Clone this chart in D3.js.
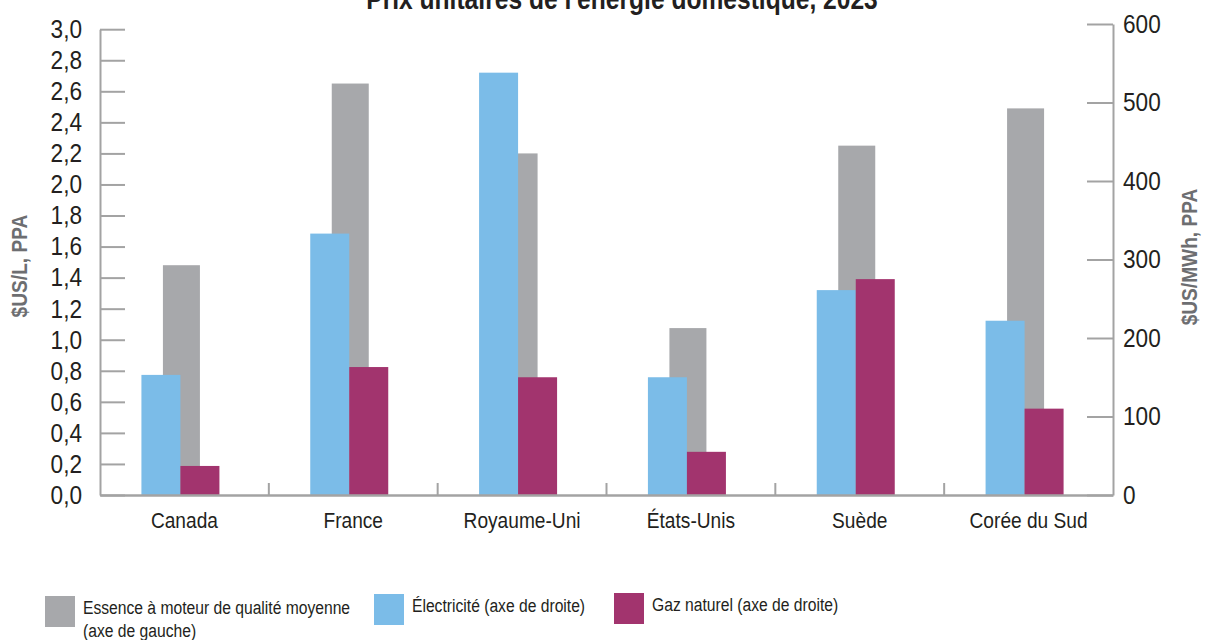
<!DOCTYPE html>
<html>
<head>
<meta charset="utf-8">
<script src="https://cdn.jsdelivr.net/npm/d3@7"></script>
<style>
  html, body { margin: 0; padding: 0; background: #fff; }
  svg { display: block; }
</style>
</head>
<body>
<svg id="chart" width="1206" height="640"></svg>
<script>
// ---- Data ----
const title = "Prix unitaires de l'énergie domestique, 2023";
const categories = ["Canada", "France", "Royaume-Uni", "États-Unis", "Suède", "Corée du Sud"];
const essence = [1.48, 2.65, 2.20, 1.075, 2.25, 2.49];        // $US/L, PPA (left axis)
const electricite = [153, 333, 538, 150, 261, 222];          // $US/MWh, PPA (right axis)
const gazNaturel = [37, 163, 150, 55, 275, 110];              // $US/MWh, PPA (right axis)
const leftTicks = [0, 0.2, 0.4, 0.6, 0.8, 1.0, 1.2, 1.4, 1.6, 1.8, 2.0, 2.2, 2.4, 2.6, 2.8, 3.0];
const rightTicks = [0, 100, 200, 300, 400, 500, 600];
const leftTitle = "$US/L, PPA";
const rightTitle = "$US/MWh, PPA";
const legendLabels = [
  ["Essence à moteur de qualité moyenne", "(axe de gauche)"],
  ["Électricité (axe de droite)"],
  ["Gaz naturel (axe de droite)"]
];

// ---- Styles ----
const FONT = "'Liberation Sans','Arial',sans-serif";
const SX = 0.87;          // horizontal condensing of regular text
const SX_TITLE = 0.82;    // horizontal condensing of the bold title
const COL_GRAY = "#a7a8ab", COL_BLUE = "#7bbce8", COL_MAG = "#a2346e";
const AXIS_COL = "#a3a3a3", TEXT_COL = "#231f20", TITLE_GRAY = "#6d6e71";

const svg = d3.select("#chart");

const x = d3.scaleBand().domain(categories).range([100, 1113]).paddingInner(0).paddingOuter(0);
const yL = d3.scaleLinear().domain([0, 3]).range([495, 29.2]);
const yR = d3.scaleLinear().domain([0, 600]).range([495, 24]);

const grayW = 37, pairW = 39;
const center = c => x(c) + x.bandwidth() / 2 - 4;

// ---- Bars ----
const g = svg.append("g");
g.selectAll("rect.ess").data(categories).join("rect")
  .attr("class", "ess")
  .attr("x", c => center(c) + 1 - grayW / 2)
  .attr("width", grayW)
  .attr("y", (c, i) => yL(essence[i]))
  .attr("height", (c, i) => yL(0) - yL(essence[i]))
  .attr("fill", COL_GRAY);

g.selectAll("rect.elec").data(categories).join("rect")
  .attr("class", "elec")
  .attr("x", c => center(c) - pairW)
  .attr("width", pairW)
  .attr("y", (c, i) => yR(electricite[i]))
  .attr("height", (c, i) => yR(0) - yR(electricite[i]))
  .attr("fill", COL_BLUE);

g.selectAll("rect.gaz").data(categories).join("rect")
  .attr("class", "gaz")
  .attr("x", c => center(c))
  .attr("width", pairW)
  .attr("y", (c, i) => yR(gazNaturel[i]))
  .attr("height", (c, i) => yR(0) - yR(gazNaturel[i]))
  .attr("fill", COL_MAG);

// condense axis tick texts horizontally around their anchor
function condense(sel, s) {
  sel.each(function () {
    const t = d3.select(this);
    const x0 = +t.attr("x") || 0;
    t.attr("x", x0 / s).attr("transform", `scale(${s},1)`);
  });
}

// ---- Left axis ----
const fmt = d => d3.format(".1f")(d).replace(".", ",");
const gl = svg.append("g").attr("transform", "translate(100,0)")
  .call(d3.axisLeft(yL).tickValues(leftTicks).tickFormat(fmt).tickSize(-25).tickSizeOuter(0).tickPadding(18));
gl.select(".domain").attr("stroke", AXIS_COL).attr("stroke-width", 2);
gl.selectAll(".tick line").attr("stroke", AXIS_COL).attr("stroke-width", 2);
gl.selectAll(".tick text").attr("font-family", FONT).attr("font-size", 26).attr("fill", TEXT_COL).call(condense, SX);

// ---- Right axis ----
const gr = svg.append("g").attr("transform", "translate(1113,0)")
  .call(d3.axisRight(yR).tickValues(rightTicks).tickFormat(d3.format("d")).tickSize(-26).tickSizeOuter(0).tickPadding(10));
gr.select(".domain").attr("stroke", AXIS_COL).attr("stroke-width", 2);
gr.selectAll(".tick line").attr("stroke", AXIS_COL).attr("stroke-width", 2);
gr.selectAll(".tick text").attr("font-family", FONT).attr("font-size", 26).attr("fill", TEXT_COL).call(condense, SX);

// ---- Bottom axis ----
const gb = svg.append("g").attr("transform", "translate(0,495)")
  .call(d3.axisBottom(x).tickSize(0).tickPadding(17).tickSizeOuter(0));
gb.select(".domain").attr("stroke", AXIS_COL).attr("stroke-width", 2.5);
gb.selectAll(".tick text").attr("font-family", FONT).attr("font-size", 22).attr("fill", TEXT_COL).call(condense, SX);
gb.selectAll("line.sep").data(categories.slice(1)).join("line")
  .attr("class", "sep")
  .attr("x1", c => x(c)).attr("x2", c => x(c))
  .attr("y1", 0).attr("y2", -12)
  .attr("stroke", AXIS_COL).attr("stroke-width", 2);

// ---- Axis titles ----
svg.append("text")
  .attr("transform", `translate(27,266) rotate(-90) scale(${SX},1)`)
  .attr("text-anchor", "middle")
  .attr("font-family", FONT).attr("font-weight", "bold").attr("font-size", 22)
  .attr("fill", TITLE_GRAY).text(leftTitle);
svg.append("text")
  .attr("transform", `translate(1197,257) rotate(-90) scale(${SX},1)`)
  .attr("text-anchor", "middle")
  .attr("font-family", FONT).attr("font-weight", "bold").attr("font-size", 22)
  .attr("fill", TITLE_GRAY).text(rightTitle);

// ---- Title ----
svg.append("text")
  .attr("transform", `translate(622,9) scale(${SX_TITLE},1)`)
  .attr("text-anchor", "middle")
  .attr("font-family", FONT).attr("font-weight", "bold").attr("font-size", 30)
  .attr("fill", TEXT_COL).text(title);

// ---- Legend ----
const legendItems = [
  { color: COL_GRAY, x: 45, y: 596, lines: legendLabels[0] },
  { color: COL_BLUE, x: 374, y: 594, lines: legendLabels[1] },
  { color: COL_MAG, x: 614, y: 593, lines: legendLabels[2] }
];
const lg = svg.append("g");
legendItems.forEach(it => {
  lg.append("rect").attr("x", it.x).attr("y", it.y).attr("width", 30).attr("height", 31).attr("fill", it.color);
  const t = lg.append("text")
    .attr("transform", `translate(${it.x + 38},${it.y + 18}) scale(${SX},1)`)
    .attr("font-family", FONT).attr("font-size", 18).attr("fill", TEXT_COL);
  it.lines.forEach((ln, k) => {
    t.append("tspan").attr("x", 0).attr("y", k * 23).text(ln);
  });
});
</script>
</body>
</html>
